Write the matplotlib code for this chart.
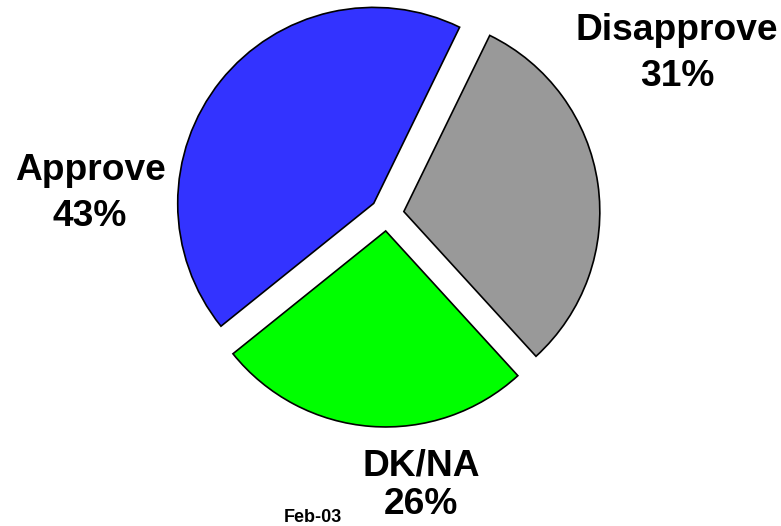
import numpy as np
from matplotlib import pyplot as plt

plt.rcParams['font.family'] = ['Liberation Sans', 'DejaVu Sans']

#---- data (counter-clockwise from the top-right gap)

labels = ['Approve', 'DK/NA', 'Disapprove']
shares = [43, 26, 31]
colors = ['#3333FF', '#00FF00', '#999999']
note = 'Feb-03'

#---- figure in pixel coordinates

W, H = 781, 526
fig = plt.figure(figsize=(W / 100, H / 100), dpi=100)
ax = fig.add_axes([0, 0, 1, 1])

cx, cy, r = 387, H - 214, 196
# explode in matplotlib is absolute (data units), here pixels
ax.pie(shares, colors=colors, startangle=64, counterclock=True,
       center=(cx, cy), radius=r, explode=[17] * 3,
       wedgeprops=dict(edgecolor='black', linewidth=1.2), frame=True)
ax.set_xlim(0, W)
ax.set_ylim(0, H)
ax.set_aspect('equal')
ax.axis('off')

# label positions (pixels from top-left)
label_pos = {'Approve': (90, 171, 217),
             'Disapprove': (677, 30, 77),
             'DK/NA': (421, 466, 505)}

for lab, val in zip(labels, shares):
    x, y1, y2 = label_pos[lab]
    ax.text(x, H - y1, lab, ha='center', va='center',
            fontsize=26.7, fontweight='bold')
    ax.text(x, H - y2, '%d%%' % val, ha='center', va='center',
            fontsize=26.7, fontweight='bold')

ax.text(313, H - 517, note, ha='center', va='center',
        fontsize=13, fontweight='bold')

plt.savefig('out.png', dpi=100)
